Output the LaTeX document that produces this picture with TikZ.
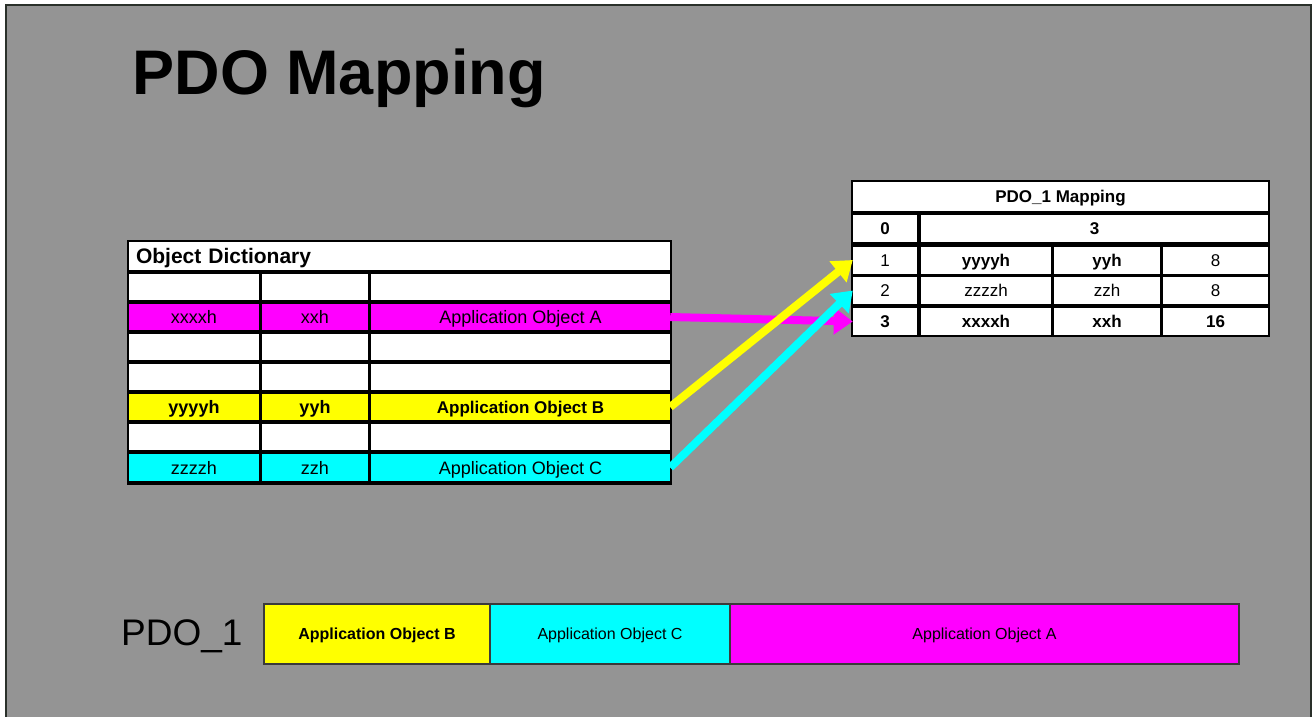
\documentclass[tikz,border=0pt]{standalone}
\usepackage{fontspec}
\setmainfont{Liberation Sans}
\usepackage{tikz}
\usetikzlibrary{shapes,arrows.meta,positioning}
\definecolor{slide}{HTML}{949494}
\definecolor{frameline}{HTML}{2A302A}
\definecolor{barline}{HTML}{3A3A3A}
\definecolor{pdomag}{HTML}{FF00FF}
\definecolor{pdoyel}{HTML}{FFFF00}
\definecolor{pdocyan}{HTML}{00FFFF}

\begin{document}
\begin{tikzpicture}
  [
    x=1pt, y=-1pt,
    Cell/.style={rectangle, fill=white, inner sep=0pt, minimum height=26pt, text height=13pt, text depth=0pt, font=\fontsize{18}{20}\selectfont},
    Small/.style={Cell, minimum height=27pt, text height=12pt, font=\fontsize{17}{19}\selectfont},
    Bar/.style={rectangle, draw=barline, line width=1.5pt, inner sep=0pt, minimum height=60pt, text height=11.5pt, text depth=0pt, font=\fontsize{16}{18}\selectfont},
    Arrow/.style={line width=8pt, -{Triangle[length=19pt, width=26pt]}}
  ]
  \useasboundingbox (0,0) rectangle (1314,717);
  % Frame
  \fill[white] (0,0) rectangle (1314,717);
  \filldraw[fill=slide, draw=frameline, line width=2pt] (6,5) rectangle (1311,730);
  \node[anchor=base west, font=\fontsize{63}{70}\selectfont\bfseries] (title) at (129,95) {PDO Mapping};

  % Object dictionary
  \fill[black] (127,240) rectangle (672,485);
  \node[Cell, minimum width=541pt, minimum height=28pt, text width=527pt, text height=15pt, align=left, font=\fontsize{21}{23}\selectfont\bfseries] (odhead) at (399.5,256) {Object Dictionary};
  \node[Cell, minimum width=130pt] (l1a) at (194,287) {};
  \node[Cell, minimum width=106pt] (l1b) at (315,287) {};
  \node[Cell, minimum width=299pt] (l1c) at (520.5,287) {};
  \node[Cell, fill=pdomag, minimum width=130pt] (l2a) at (194,317) {xxxxh};
  \node[Cell, fill=pdomag, minimum width=106pt] (l2b) at (315,317) {xxh};
  \node[Cell, fill=pdomag, minimum width=299pt] (l2c) at (520.5,317) {Application Object A};
  \node[Cell, minimum width=130pt] (l3a) at (194,347) {};
  \node[Cell, minimum width=106pt] (l3b) at (315,347) {};
  \node[Cell, minimum width=299pt] (l3c) at (520.5,347) {};
  \node[Cell, minimum width=130pt] (l4a) at (194,377) {};
  \node[Cell, minimum width=106pt] (l4b) at (315,377) {};
  \node[Cell, minimum width=299pt] (l4c) at (520.5,377) {};
  \node[Cell, fill=pdoyel, minimum width=130pt, font=\fontsize{18}{20}\selectfont\bfseries] (l5a) at (194,407) {yyyyh};
  \node[Cell, fill=pdoyel, minimum width=106pt, font=\fontsize{18}{20}\selectfont\bfseries] (l5b) at (315,407) {yyh};
  \node[Cell, fill=pdoyel, minimum width=299pt, font=\fontsize{17}{19}\selectfont\bfseries] (l5c) at (520.5,407) {Application Object B};
  \node[Cell, minimum width=130pt] (l6a) at (194,437) {};
  \node[Cell, minimum width=106pt] (l6b) at (315,437) {};
  \node[Cell, minimum width=299pt] (l6c) at (520.5,437) {};
  \node[Cell, fill=pdocyan, minimum width=130pt, minimum height=27pt] (l7a) at (194,467.5) {zzzzh};
  \node[Cell, fill=pdocyan, minimum width=106pt, minimum height=27pt] (l7b) at (315,467.5) {zzh};
  \node[Cell, fill=pdocyan, minimum width=299pt, minimum height=27pt] (l7c) at (520.5,467.5) {Application Object C};

  % PDO_1 mapping
  \fill[black] (851,180) rectangle (1270,337);
  \node[Small, minimum width=415pt, minimum height=29pt, font=\fontsize{17}{19}\selectfont\bfseries] (maphead) at (1060.5,196.5) {PDO\_1 Mapping};
  \node[Small, minimum width=64pt, font=\fontsize{17}{19}\selectfont\bfseries] (r0a) at (885,228.5) {0};
  \node[Small, minimum width=347pt, font=\fontsize{17}{19}\selectfont\bfseries] (r0b) at (1094.5,228.5) {3};
  \node[Small, minimum width=64pt] (r1a) at (885,260) {1};
  \node[Small, minimum width=130pt, font=\fontsize{17}{19}\selectfont\bfseries] (r1b) at (986,260) {yyyyh};
  \node[Small, minimum width=106pt, font=\fontsize{17}{19}\selectfont\bfseries] (r1c) at (1107,260) {yyh};
  \node[Small, minimum width=105pt] (r1d) at (1215.5,260) {8};
  \node[Small, minimum width=64pt] (r2a) at (885,290.5) {2};
  \node[Small, minimum width=130pt] (r2b) at (986,290.5) {zzzzh};
  \node[Small, minimum width=106pt] (r2c) at (1107,290.5) {zzh};
  \node[Small, minimum width=105pt] (r2d) at (1215.5,290.5) {8};
  \node[Small, minimum width=64pt, font=\fontsize{17}{19}\selectfont\bfseries] (r3a) at (885,321.5) {3};
  \node[Small, minimum width=130pt, font=\fontsize{17}{19}\selectfont\bfseries] (r3b) at (986,321.5) {xxxxh};
  \node[Small, minimum width=106pt, font=\fontsize{17}{19}\selectfont\bfseries] (r3c) at (1107,321.5) {xxh};
  \node[Small, minimum width=105pt, font=\fontsize{17}{19}\selectfont\bfseries] (r3d) at (1215.5,321.5) {16};

  % Lines
  \path [Arrow, draw=pdomag] (l2c.east) -- (r3a.west);
  \path [Arrow, draw=pdoyel] (l5c.east) -- (r1a.west);
  \path [Arrow, draw=pdocyan] (l7c.east) -- (r2a.west);

  % PDO_1 frame
  \node[anchor=base east, font=\fontsize{37}{40}\selectfont] (pdolabel) at (246,645) {PDO\_1};
  \node[Bar, fill=pdoyel, minimum width=226pt, font=\fontsize{16}{18}\selectfont\bfseries] (barb) at (377,634) {Application Object B};
  \node[Bar, fill=pdocyan, minimum width=240pt] (barc) at (610,634) {Application Object C};
  \node[Bar, fill=pdomag, minimum width=509pt] (bara) at (984.5,634) {Application Object A};
\end{tikzpicture}
\end{document}
